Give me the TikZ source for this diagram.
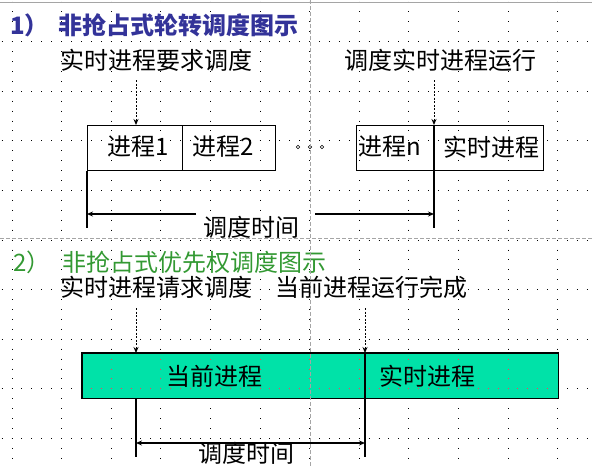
\documentclass[tikz,border=0pt]{standalone}
\usepackage{fontspec}
\setmainfont{Noto Sans CJK SC}
\usetikzlibrary{arrows.meta}
\definecolor{titleblue}{RGB}{51,51,153}
\definecolor{titlegreen}{RGB}{51,153,51}
\definecolor{boxgreen}{RGB}{0,226,168}
\definecolor{guidegray}{RGB}{165,165,165}
\definecolor{gridred}{RGB}{255,60,90}
\begin{document}
\begin{tikzpicture}[x=1pt,y=-1pt,
  txt/.style={inner sep=0pt, font=\fontsize{24}{24}\selectfont, text=black},
  cell/.style={draw, line width=1.2pt, inner sep=0pt, anchor=north west, minimum height=45pt},
  gcell/.style={fill=boxgreen, inner sep=0pt, anchor=north west, minimum height=45pt},
  dasharrow/.style={line width=0.9pt, dash pattern=on 2pt off 1.5pt, -{Stealth[length=6pt,width=5pt]}},
  solidline/.style={line width=1.3pt},
  timearrow/.style={line width=1.3pt, -{Stealth[length=6pt,width=5pt]}},
  dblarrow/.style={line width=1.3pt, {Stealth[length=6pt,width=5pt]}-{Stealth[length=6pt,width=5pt]}},
  dotrow/.style={line width=1pt, dash pattern=on 1pt off 8.92pt},
  guide/.style={guidegray, line width=0.8pt, dash pattern=on 4pt off 2pt},
  smalldot/.style={circle, draw, line width=0.6pt, inner sep=0pt, minimum size=3.5pt},
]
\useasboundingbox (0,0) rectangle (592,466);
% background grid
\foreach \k in {0,...,11} { \draw[dotrow] ({12+49.6*\k},1.52) -- ({12+49.6*\k},466); }
\foreach \k in {0,...,8} { \draw[dotrow] (1.58,{41.7+49.6*\k}) -- (592,{41.7+49.6*\k}); }
\draw[guidegray, line width=1pt] (0,2) -- (592,2);

% ---------- section 1 ----------
\node[txt, text=titleblue, font=\fontsize{24}{24}\selectfont\bfseries, anchor=west] (t1) at (10,25) {1）\hspace{10pt}非抢占式轮转调度图示};
\node[txt] (req1) at (156,60) {实时进程要求调度};
\node[txt] (run1) at (440,60) {调度实时进程运行};

\node[cell, minimum width=95pt] (c1) at (87,125) {};
\node[cell, minimum width=93pt] (c2) at (182,125) {};
\node[cell, minimum width=78pt] (cn) at (356,125) {};
\node[cell, minimum width=109pt] (crt) at (434,125) {};
\node[txt] (l1) at (138,147) {进程1};
\node[txt] (l2) at (223,147) {进程2};
\node[txt] (ln) at (390,147) {进程n};
\node[txt] (lrt) at (491,147) {实时进程};
\node[smalldot] (d1) at (298,147) {};
\node[smalldot] (d2) at (310,147) {};
\node[smalldot] (d3) at (322,147) {};

\coordinate (s1) at (136,80);
\coordinate (s2) at (434,80);
\draw[dasharrow] (s1) -- (s1 |- c1.north);
\draw[dasharrow] (s2) -- (crt.north west);
\coordinate (b1) at (87,228);
\coordinate (b2) at (434,228);
\draw[solidline] (c1.south west) -- (b1);
\draw[solidline] (crt.north west) -- (b2);
\node[txt] (time1) at (251,227) {调度时间};
\coordinate (g1) at (196,214);
\coordinate (g2) at (315,214);
\draw[timearrow] (g1) -- (g1 -| b1);
\draw[timearrow] (g2) -- (g2 -| b2);

% ---------- section 2 ----------
\node[txt, text=titlegreen, anchor=west] (t2) at (13,262) {2）\hspace{12pt}非抢占式优先权调度图示};
\node[txt] (req2) at (156,287) {实时进程请求调度};
\node[txt] (done) at (371,287) {当前进程运行完成};

\node[gcell, minimum width=283pt] (cur) at (82,353) {};
\node[gcell, minimum width=193pt] (rt2) at (365,353) {};
\begin{scope}
  \clip (83,354) rectangle (557,397);
  \foreach \k in {0,...,11} { \draw[dotrow, gridred] ({12+49.6*\k},1.52) -- ({12+49.6*\k},466); }
  \foreach \k in {0,...,8} { \draw[dotrow, gridred] (1.58,{41.7+49.6*\k}) -- (592,{41.7+49.6*\k}); }
\end{scope}
\draw[line width=1.2pt] (cur.north west) rectangle (cur.south east);
\draw[line width=1.2pt] (rt2.north west) rectangle (rt2.south east);
\node[txt] (lcur) at (214,376) {当前进程};
\node[txt] (lrt2) at (427,376) {实时进程};

\coordinate (s3) at (136,308);
\coordinate (s4) at (365,308);
\draw[dasharrow] (s3) -- (s3 |- cur.north);
\draw[dasharrow] (s4) -- (rt2.north west);
\coordinate (e1) at (136,457);
\coordinate (e2) at (365,457);
\draw[solidline] (s3 |- cur.south) -- (e1);
\draw[solidline] (rt2.north west) -- (e2);
\coordinate (h1) at (136,443);
\coordinate (h2) at (365,443);
\draw[dblarrow] (h1) -- (h2);
\node[txt] (time2) at (246,453) {调度时间};

% guides
\draw[guide] (310,0) -- (310,466);
\draw[guide] (0,238) -- (592,238);
\end{tikzpicture}
\end{document}
